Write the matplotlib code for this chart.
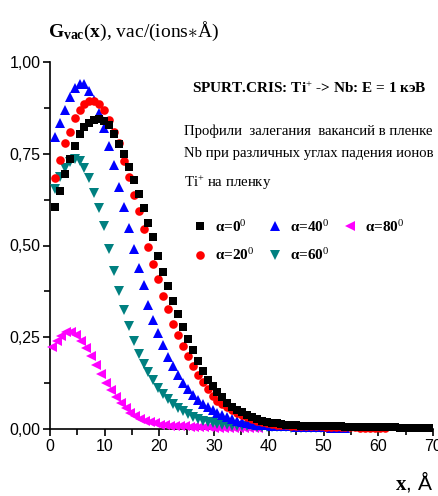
import numpy as np
import matplotlib
matplotlib.use("Agg")
import matplotlib.pyplot as plt
from matplotlib.ticker import MultipleLocator, FuncFormatter

plt.rcParams['mathtext.fontset'] = 'custom'
plt.rcParams['mathtext.rm'] = 'Liberation Serif'
plt.rcParams['mathtext.it'] = 'Liberation Serif:italic'
plt.rcParams['mathtext.bf'] = 'Liberation Serif:bold'

# depth grid step (Å) of the SPURT.CRIS output
step = 0.9

# vacancy profiles G_vac(x) for each incidence angle
g_a0 = [0.605, 0.648, 0.695, 0.737, 0.772, 0.804, 0.823, 0.835, 0.842, 0.846,
        0.840, 0.827, 0.803, 0.776, 0.748, 0.715, 0.678, 0.640, 0.603, 0.562,
        0.524, 0.472, 0.428, 0.390, 0.350, 0.314, 0.279, 0.245, 0.216, 0.185,
        0.157, 0.134, 0.117, 0.102, 0.087, 0.071, 0.060, 0.052, 0.045, 0.038,
        0.032, 0.027, 0.023, 0.020, 0.017, 0.015, 0.013, 0.012, 0.011, 0.010,
        0.009, 0.009, 0.008, 0.008, 0.008, 0.007, 0.007, 0.007, 0.007, 0.006,
        0.006, 0.006, 0.006, 0.006, 0.005, 0.005, 0.005, 0.005, 0.005, 0.005,
        0.004, 0.004, 0.004, 0.004, 0.004, 0.004, 0.004]
g_a20 = [0.685, 0.732, 0.779, 0.808, 0.848, 0.870, 0.886, 0.894, 0.894, 0.885,
         0.870, 0.843, 0.808, 0.780, 0.730, 0.687, 0.638, 0.593, 0.546, 0.496,
         0.449, 0.410, 0.363, 0.328, 0.286, 0.255, 0.225, 0.200, 0.172, 0.148,
         0.128, 0.108, 0.091, 0.077, 0.068, 0.060, 0.051, 0.044, 0.038, 0.032,
         0.027, 0.023, 0.019, 0.016, 0.014, 0.012, 0.011, 0.010, 0.009, 0.009,
         0.008, 0.008, 0.007, 0.007, 0.007, 0.006, 0.006, 0.006, 0.005, 0.005,
         0.005, 0.005, 0.004, 0.004, 0.004, 0.004, 0.004, 0.004]
g_a40 = [0.795, 0.835, 0.870, 0.905, 0.930, 0.940, 0.939, 0.921, 0.896, 0.862,
         0.821, 0.771, 0.719, 0.660, 0.605, 0.548, 0.490, 0.440, 0.392, 0.337,
         0.296, 0.262, 0.228, 0.197, 0.171, 0.147, 0.124, 0.110, 0.092, 0.079,
         0.068, 0.059, 0.052, 0.044, 0.038, 0.032, 0.027, 0.023, 0.019, 0.016,
         0.014, 0.012, 0.011, 0.010, 0.009, 0.008, 0.008, 0.007, 0.007, 0.006,
         0.006, 0.006, 0.005, 0.005, 0.005, 0.005, 0.004, 0.004, 0.004, 0.004]
g_a60 = [0.655, 0.688, 0.712, 0.728, 0.735, 0.730, 0.712, 0.685, 0.642, 0.602,
         0.553, 0.490, 0.430, 0.375, 0.325, 0.280, 0.240, 0.205, 0.178, 0.155,
         0.133, 0.112, 0.095, 0.081, 0.068, 0.058, 0.049, 0.041, 0.034, 0.028,
         0.023, 0.019, 0.016, 0.013, 0.011, 0.010, 0.009, 0.008, 0.008, 0.007,
         0.007, 0.006, 0.006, 0.006, 0.005, 0.005, 0.005, 0.005, 0.004, 0.004,
         0.004, 0.004, 0.004, 0.004, 0.004]
g_a80 = [0.223, 0.241, 0.254, 0.263, 0.265, 0.256, 0.241, 0.222, 0.199, 0.175,
         0.149, 0.126, 0.106, 0.088, 0.071, 0.057, 0.044, 0.035, 0.027, 0.022,
         0.018, 0.015, 0.012, 0.010, 0.009, 0.008, 0.007, 0.007, 0.006, 0.006,
         0.005, 0.005, 0.005, 0.004, 0.004, 0.004, 0.004, 0.003, 0.003, 0.003,
         0.003, 0.003, 0.003]

x_start = {0: 0.9, 20: 0.9, 40: 0.9, 60: 0.9, 80: 0.3}
profiles = {0: g_a0, 20: g_a20, 40: g_a40, 60: g_a60, 80: g_a80}
styles = {
    0: dict(marker='s', color='black', ms=5.4),
    20: dict(marker='o', color='#ff0000', ms=6.2),
    40: dict(marker='^', color='#0000ff', ms=7.2),
    60: dict(marker='v', color='#008080', ms=7.2),
    80: dict(marker='<', color='#ff00ff', ms=6.5),
}

fig = plt.figure(figsize=(4.39, 4.96), dpi=100)
ax = fig.add_axes([50 / 439, 1 - 429 / 496, 383 / 439, 367 / 496])

for angle in [80, 60, 40, 20, 0]:
    g = np.array(profiles[angle])
    x = x_start[angle] + step * np.arange(len(g))
    st = styles[angle]
    ax.plot(x, g, linestyle='none', marker=st['marker'], color=st['color'],
            markersize=st['ms'], markeredgewidth=0, clip_on=False, zorder=3,
            label='α=%d$^{0}$' % angle)

ax.set_xlim(0, 70)
ax.set_ylim(0, 1.0)
ax.spines['top'].set_visible(False)
ax.spines['right'].set_visible(False)
for s in ['left', 'bottom']:
    ax.spines[s].set_linewidth(1.2)
ax.xaxis.set_major_locator(MultipleLocator(10))
ax.xaxis.set_minor_locator(MultipleLocator(5))
ax.yaxis.set_major_locator(MultipleLocator(0.25))
ax.yaxis.set_minor_locator(MultipleLocator(0.125))
ax.yaxis.set_major_formatter(FuncFormatter(lambda v, p: ('%.2f' % v).replace('.', ',')))
ax.tick_params(which='major', direction='out', length=5, width=1.2,
               labelsize=11.5, pad=2)
ax.tick_params(which='minor', direction='out', length=4, width=1.2)
for lab in ax.get_xticklabels() + ax.get_yticklabels():
    lab.set_family('Liberation Sans')

# handle order [0, 20, 40, 60, 80] fills columns two at a time
handles, labels = ax.get_legend_handles_labels()
order = [4, 3, 2, 1, 0]
leg = ax.legend([handles[i] for i in order], [labels[i] for i in order],
                ncol=3, frameon=False, loc='upper left',
                bbox_to_anchor=(185 / 439, 1 - 211 / 496),
                bbox_transform=fig.transFigure,
                handlelength=0.9, handletextpad=0.55, columnspacing=0.9,
                labelspacing=0.85, borderpad=0, markerscale=1.0,
                prop={'family': 'Liberation Serif', 'weight': 'bold', 'size': 11})

fig.text(48 / 439, 1 - 37 / 496,
         r'$\mathbf{G}_{\mathbf{vac}}(\mathbf{x})$, vac/(ions$\ast$Å)',
         family='Liberation Serif', fontsize=14, ha='left', va='baseline')

fig.text(192 / 439, 1 - 93 / 496, r'SPURT.CRIS: Ti$^{+}$ -> Nb: E = 1 кэВ',
         family='Liberation Serif', weight='bold', fontsize=11,
         ha='left', va='baseline')

fig.text(184 / 439, 1 - 124 / 496,
         'Профили  залегания  вакансий в пленке\n'
         'Nb при различных углах падения ионов\n'
         r'Ti$^{+}$ на пленку',
         family='Liberation Serif', fontsize=10.6, ha='left', va='top',
         linespacing=2.0)

fig.text(433 / 439, 1 - 490 / 496, r'$\mathbf{x}$, Å',
         family='Liberation Sans', fontsize=15, ha='right', va='baseline')

fig.savefig('out.png', dpi=100)
